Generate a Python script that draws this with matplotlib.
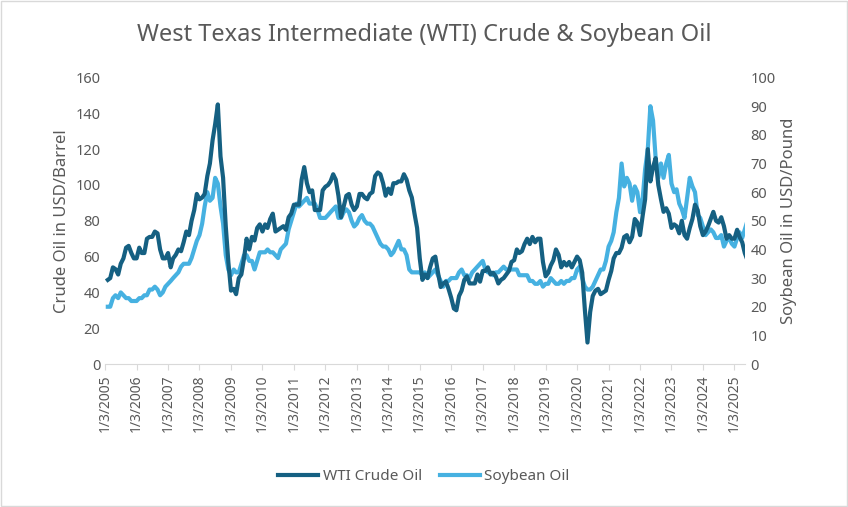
import matplotlib as mpl
import matplotlib.pyplot as plt
import numpy as np
import pandas as pd

mpl.rcParams["font.family"] = "sans-serif"
mpl.rcParams["font.sans-serif"] = ["Noto Sans", "DejaVu Sans"]

# monthly values, Jan 2005 .. May 2025
wti = [
    47, 48, 54, 53, 50, 56, 59, 65, 66, 62, 59, 59,
    65, 62, 62, 70, 71, 71, 74, 73, 64, 59, 59, 62,
    54, 59, 61, 64, 63, 68, 74, 72, 80, 86, 95, 92,
    93, 95, 105, 112, 125, 134, 145, 116, 104, 77, 57, 41,
    42, 39, 48, 50, 59, 70, 64, 71, 69, 76, 78, 74,
    78, 76, 81, 84, 74, 75, 76, 77, 75, 82, 84, 89,
    89, 89, 103, 110, 101, 96, 97, 86, 86, 86, 97, 99,
    100, 102, 106, 103, 94, 82, 88, 94, 95, 89, 86, 88,
    95, 95, 93, 92, 95, 96, 105, 107, 106, 101, 94, 98,
    95, 101, 101, 102, 102, 106, 103, 97, 93, 84, 76, 59,
    47, 50, 48, 54, 59, 60, 51, 43, 45, 46, 42, 37,
    31, 30, 38, 41, 47, 49, 45, 45, 45, 50, 46, 52,
    52, 54, 50, 51, 49, 45, 47, 48, 50, 52, 57, 58,
    64, 62, 63, 67, 70, 67, 71, 68, 70, 70, 57, 49,
    51, 55, 58, 64, 61, 54, 57, 55, 57, 54, 57, 60,
    58, 51, 30, 12, 29, 38, 41, 42, 39, 40, 41, 47,
    52, 59, 62, 62, 65, 71, 72, 68, 71, 81, 79, 72,
    83, 92, 120, 102, 110, 115, 100, 92, 85, 87, 84, 76,
    78, 77, 73, 80, 72, 70, 76, 81, 89, 86, 77, 72,
    74, 77, 81, 85, 80, 79, 82, 77, 70, 72, 70, 70,
    75, 71, 68, 62, 58,
]
soy = [
    20, 20, 23, 24, 23, 25, 24, 23, 23, 22, 22, 22,
    23, 23, 24, 24, 26, 26, 27, 26, 24, 25, 27, 28,
    29, 30, 31, 32, 34, 35, 35, 35, 37, 40, 43, 45,
    49, 55, 60, 57, 58, 65, 63, 55, 49, 38, 33, 31,
    33, 32, 32, 35, 38, 38, 36, 36, 33, 36, 39, 39,
    39, 40, 39, 39, 38, 37, 40, 41, 42, 47, 50, 53,
    56, 55, 56, 57, 58, 56, 56, 56, 54, 51, 51, 51,
    52, 53, 54, 55, 51, 51, 53, 54, 53, 50, 48, 49,
    51, 52, 50, 49, 49, 48, 46, 44, 42, 41, 41, 40,
    38, 39, 41, 43, 40, 40, 38, 33, 32, 32, 32, 32,
    31, 32, 30, 31, 32, 33, 31, 29, 27, 29, 29, 30,
    30, 30, 32, 33, 31, 31, 30, 32, 33, 34, 35, 36,
    33, 32, 32, 31, 32, 32, 33, 34, 33, 33, 33, 33,
    33, 31, 31, 31, 31, 29, 29, 28, 28, 29, 27, 28,
    28, 30, 29, 28, 28, 29, 28, 29, 29, 30, 30, 33,
    34, 30, 27, 26, 26, 27, 29, 31, 33, 33, 36, 41,
    43, 46, 53, 58, 70, 62, 65, 63, 57, 62, 60, 53,
    58, 68, 75, 90, 85, 72, 65, 70, 65, 70, 73, 63,
    60, 61, 56, 54, 51, 58, 65, 62, 60, 52, 51, 48,
    45, 46, 47, 46, 44, 44, 45, 41, 43, 44, 42, 41,
    44, 46, 44, 47, 50,
]
dates = pd.date_range("2005-01-03", periods=len(wti), freq="MS") + pd.Timedelta(days=2)
years = list(range(2005, 2026))

dark = "#156082"
light = "#46b1e1"
grey = "#595959"

fig = plt.figure(figsize=(8.48, 5.07), dpi=100)
ax = fig.add_axes([0.124, 0.282, 0.755, 0.565])
ax2 = ax.twinx()
l1, = ax.plot(dates, wti, color=dark, linewidth=3, zorder=3)
l2, = ax2.plot(dates, soy, color=light, linewidth=3)
ax.set_zorder(ax2.get_zorder() + 1)
ax.patch.set_visible(False)

ax.set_ylim(0, 160)
ax.set_yticks(range(0, 161, 20))
ax2.set_ylim(0, 100)
ax2.set_yticks(range(0, 101, 10))
ax.set_xlim(pd.Timestamp("2005-01-03"), pd.Timestamp("2025-05-10"))
ax.set_xticks([pd.Timestamp(f"{y}-01-03") for y in years])
ax.set_xticklabels([f"1/3/{y}" for y in years], rotation=90)

for a in (ax, ax2):
    for s in a.spines.values():
        s.set_visible(False)
    a.tick_params(length=0, colors=grey, labelsize=10.5)
ax.spines["bottom"].set_visible(True)
ax.spines["bottom"].set_color("#d9d9d9")
ax.tick_params(axis="x", length=4, color="#d9d9d9", labelsize=10)

ax.set_ylabel("Crude Oil in USD/Barrel", color=grey, fontsize=12)
ax2.set_ylabel("Soybean Oil in USD/Pound", color=grey, fontsize=12)
fig.suptitle("West Texas Intermediate (WTI) Crude & Soybean Oil", color=grey,
             fontsize=17, y=0.955)
fig.legend([l1, l2], ["WTI Crude Oil", "Soybean Oil"], loc="center",
           bbox_to_anchor=(0.5, 0.06), ncol=2, frameon=False,
           labelcolor=grey, fontsize=11, handlelength=2.6, columnspacing=1.2,
           handletextpad=0.3)
fig.patches.append(mpl.patches.Rectangle((0.001, 0.001), 0.998, 0.998,
                   transform=fig.transFigure, fill=False, edgecolor="#d9d9d9"))
fig.savefig("out.png", dpi=100)
